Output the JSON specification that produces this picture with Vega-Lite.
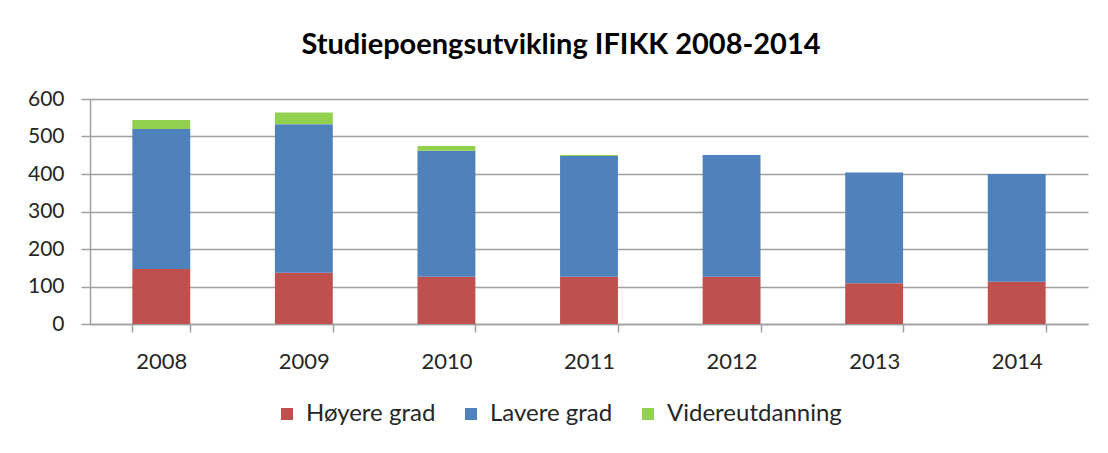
{
  "$schema": "https://vega.github.io/schema/vega-lite/v6.json",
  "width": 998,
  "height": 225,
  "autosize": "none",
  "padding": {"left": 90, "top": 99, "right": 20, "bottom": 129},
  "background": "white",
  "title": {
    "text": "Studiepoengsutvikling IFIKK 2008-2014",
    "font": "Lato",
    "fontSize": 29,
    "fontWeight": "bold",
    "color": "#000000",
    "anchor": "middle",
    "dx": -28,
    "baseline": "bottom",
    "offset": -1
  },
  "data": {
    "values": [
      {"year": "2008", "kategori": "Høyere grad", "ord": 1, "verdi": 147},
      {"year": "2008", "kategori": "Lavere grad", "ord": 2, "verdi": 373},
      {"year": "2008", "kategori": "Videreutdanning", "ord": 3, "verdi": 24},
      {"year": "2009", "kategori": "Høyere grad", "ord": 1, "verdi": 137},
      {"year": "2009", "kategori": "Lavere grad", "ord": 2, "verdi": 396},
      {"year": "2009", "kategori": "Videreutdanning", "ord": 3, "verdi": 31},
      {"year": "2010", "kategori": "Høyere grad", "ord": 1, "verdi": 126},
      {"year": "2010", "kategori": "Lavere grad", "ord": 2, "verdi": 336},
      {"year": "2010", "kategori": "Videreutdanning", "ord": 3, "verdi": 13},
      {"year": "2011", "kategori": "Høyere grad", "ord": 1, "verdi": 126},
      {"year": "2011", "kategori": "Lavere grad", "ord": 2, "verdi": 322},
      {"year": "2011", "kategori": "Videreutdanning", "ord": 3, "verdi": 3},
      {"year": "2012", "kategori": "Høyere grad", "ord": 1, "verdi": 126},
      {"year": "2012", "kategori": "Lavere grad", "ord": 2, "verdi": 325},
      {"year": "2012", "kategori": "Videreutdanning", "ord": 3, "verdi": 0},
      {"year": "2013", "kategori": "Høyere grad", "ord": 1, "verdi": 109},
      {"year": "2013", "kategori": "Lavere grad", "ord": 2, "verdi": 295},
      {"year": "2013", "kategori": "Videreutdanning", "ord": 3, "verdi": 0},
      {"year": "2014", "kategori": "Høyere grad", "ord": 1, "verdi": 113},
      {"year": "2014", "kategori": "Lavere grad", "ord": 2, "verdi": 287},
      {"year": "2014", "kategori": "Videreutdanning", "ord": 3, "verdi": 0}
    ]
  },
  "mark": {"type": "bar"},
  "encoding": {
    "x": {
      "field": "year",
      "type": "nominal",
      "title": null,
      "scale": {"paddingInner": 0.594, "paddingOuter": 0.297},
      "axis": {
        "labelAngle": 0,
        "labelFont": "Lato",
        "labelFontSize": 22,
        "labelColor": "#262626",
        "labelPadding": 19,
        "tickBand": "extent",
        "tickSize": 8,
        "tickColor": "#a0a0a0",
        "tickWidth": 1.5,
        "domainColor": "#a0a0a0",
        "domainWidth": 1.5,
        "grid": false
      }
    },
    "y": {
      "field": "verdi",
      "type": "quantitative",
      "stack": "zero",
      "title": null,
      "scale": {"domain": [0, 600], "nice": false},
      "axis": {
        "values": [0, 100, 200, 300, 400, 500, 600],
        "labelFont": "Lato",
        "labelFontSize": 21,
        "labelColor": "#262626",
        "labelPadding": 17,
        "tickSize": 9,
        "tickColor": "#a0a0a0",
        "tickWidth": 1.5,
        "domainColor": "#a0a0a0",
        "domainWidth": 1.5,
        "grid": true,
        "gridColor": "#a0a0a0",
        "gridWidth": 1.5
      }
    },
    "color": {
      "field": "kategori",
      "type": "nominal",
      "title": null,
      "scale": {
        "domain": ["Høyere grad", "Lavere grad", "Videreutdanning"],
        "range": ["#C0504D", "#4F81BD", "#92D050"]
      },
      "legend": {
        "orient": "none",
        "legendX": 185,
        "legendY": 303,
        "direction": "horizontal",
        "symbolType": "square",
        "symbolSize": 144,
        "symbolStrokeWidth": 0,
        "labelFont": "Lato",
        "labelFontSize": 24,
        "labelLimit": 400,
        "labelColor": "#262626",
        "labelOffset": 7,
        "columnPadding": 23
      }
    },
    "order": {"field": "ord", "type": "quantitative"}
  },
  "config": {
    "view": {"stroke": null}
  }
}
